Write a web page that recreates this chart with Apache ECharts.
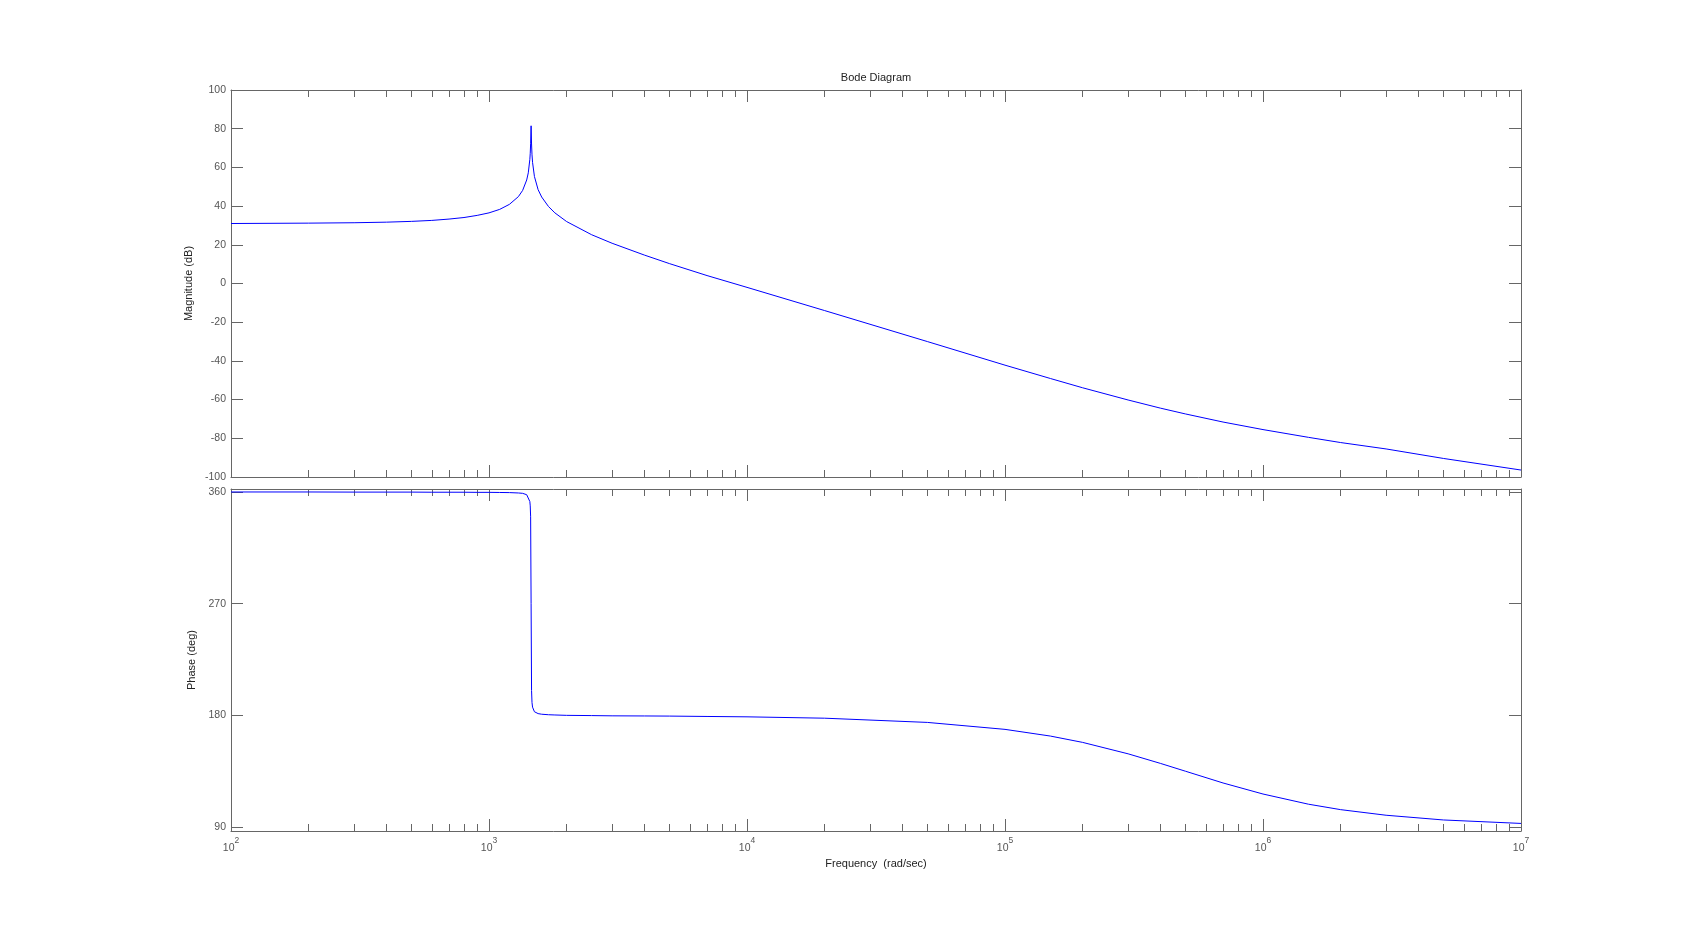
<!DOCTYPE html>
<html><head><meta charset="utf-8">
<script src="https://cdn.jsdelivr.net/npm/echarts@6/dist/echarts.min.js"></script>
<style>html,body{margin:0;padding:0;background:#fff}#c{width:1681px;height:934px}</style>
</head><body><div id="c"></div><script>
// frequency (rad/sec)
const freq = [100,200,300,400,500,600,700,800,900,1000,
  1100,1200,1300,1350,1400,1420,1440,1445,1450,1456,
  1462,1468,1475,1500,1550,1600,1700,1800,2000,2500,
  3000,4000,5000,7000,1e4,2e4,5e4,1e5,1.5e5,2e5,
  3e5,4e5,5e5,7e5,1e6,1.5e6,2e6,3e6,5e6,1e7];
// magnitude (dB)
const magnitude = [31.0,31.2,31.4,31.7,32.1,32.6,33.3,34.1,35.2,36.5,
  38.3,40.9,44.9,48.1,53.5,57.2,64.2,67.3,72.2,81.5,
  72.1,66.5,62.6,55.3,48.5,44.7,39.8,36.5,32.0,25.2,
  20.8,14.7,10.3,4.1,-2.0,-14.0,-30.0,-42.2,-49.1,-53.9,
  -60.2,-64.4,-67.4,-71.6,-75.5,-79.5,-82.2,-85.5,-90.4,-96.4];
// phase (deg)
const phase = [360.0,360.0,359.9,359.9,359.9,359.8,359.8,359.8,359.7,359.7,
  359.6,359.5,359.2,358.9,357.8,356.6,352.3,348.8,340.0,270.0,
  200.0,190.3,186.6,182.9,181.4,180.9,180.5,180.3,180.0,179.8,
  179.6,179.5,179.4,179.1,178.8,177.7,174.3,168.7,163.3,158.2,
  149.0,141.3,135.0,125.5,116.6,108.4,104.0,99.5,95.7,92.9];
// ticks
const xMajorTicks = [1e2,1e3,1e4,1e5,1e6,1e7];
const xMinorMultipliers = [2,3,4,5,6,7,8,9];
const magTicks = [-100,-80,-60,-40,-20,0,20,40,60,80,100];
const phaseTicks = [90,180,270,360];

const xMinorTicks = [];
for (let d = 0; d < xMajorTicks.length - 1; d++) {
  for (const m of xMinorMultipliers) xMinorTicks.push(m * xMajorTicks[d]);
}

const FONT = 'Liberation Sans, Arial, Helvetica, sans-serif';
const AX = '#666666';
const LBL = '#555555';
const NAME = '#222222';

function xAx(grid, pos, minor, labels) {
  const a = {
    type: 'log', logBase: 10, min: 1e2, max: 1e7, gridIndex: grid, position: pos,
    axisLine: { show: !minor, onZero: false, lineStyle: { color: AX, width: 1 } },
    axisTick: { show: true, inside: true, length: minor ? 7 : 12,
      customValues: minor ? xMinorTicks : xMajorTicks,
      lineStyle: { color: AX, width: 1 } },
    axisLabel: { show: false },
    splitLine: { show: false }, minorTick: { show: false }, minorSplitLine: { show: false }
  };
  if (labels) {
    a.axisLabel = {
      show: true, customValues: xMajorTicks, margin: 5,
      formatter: v => '{b|10}{s|' + Math.round(Math.log10(v)) + '}',
      rich: {
        b: { fontSize: 10.5, color: LBL, fontFamily: FONT, verticalAlign: 'bottom', lineHeight: 18 },
        s: { fontSize: 8.5, color: LBL, fontFamily: FONT, verticalAlign: 'top', lineHeight: 9 }
      }
    };
    a.name = 'Frequency  (rad/sec)';
    a.nameLocation = 'middle';
    a.nameGap = 27;
    a.nameTextStyle = { fontSize: 11, color: NAME, fontFamily: FONT };
  }
  return a;
}

function yAx(grid, pos, cfg, labels, name, gap) {
  const a = Object.assign({
    type: 'value', gridIndex: grid, position: pos,
    axisLine: { show: true, onZero: false, lineStyle: { color: AX, width: 1 } },
    axisTick: { show: true, inside: true, length: 12, lineStyle: { color: AX, width: 1 } },
    axisLabel: { show: labels, margin: 5, fontSize: 10.5, color: LBL, fontFamily: FONT },
    splitLine: { show: false }
  }, cfg);
  if (cfg.ticks) {
    a.axisTick.customValues = cfg.ticks;
    a.axisLabel.customValues = cfg.ticks;
    delete a.ticks;
  }
  if (name) {
    a.name = name; a.nameLocation = 'middle'; a.nameGap = gap; a.nameRotate = 90;
    a.nameTextStyle = { fontSize: 11, color: NAME, fontFamily: FONT };
  }
  return a;
}

const magCfg = { min: magTicks[0], max: magTicks[magTicks.length - 1], interval: 20 };
const phCfg = { min: 86.8, max: 362.4, ticks: phaseTicks };

const chart = echarts.init(document.getElementById('c'), null, { renderer: 'canvas' });
chart.setOption({
  backgroundColor: '#ffffff',
  animation: false,
  title: {
    text: 'Bode Diagram', left: 876, top: 72, textAlign: 'center', padding: 0,
    textStyle: { fontSize: 11, fontWeight: 'normal', color: NAME, fontFamily: FONT }
  },
  grid: [
    { left: 231, right: 160, top: 90, height: 387, containLabel: false },
    { left: 231, right: 160, top: 489, height: 342, containLabel: false }
  ],
  xAxis: [
    xAx(0, 'bottom', false, false), xAx(0, 'bottom', true, false),
    xAx(0, 'top', false, false), xAx(0, 'top', true, false),
    xAx(1, 'bottom', false, true), xAx(1, 'bottom', true, false),
    xAx(1, 'top', false, false), xAx(1, 'top', true, false)
  ],
  yAxis: [
    yAx(0, 'left', Object.assign({}, magCfg), true, 'Magnitude (dB)', 33),
    yAx(0, 'right', Object.assign({}, magCfg), false),
    yAx(1, 'left', Object.assign({}, phCfg), true, 'Phase (deg)', 28),
    yAx(1, 'right', Object.assign({}, phCfg), false)
  ],
  series: [
    { type: 'line', xAxisIndex: 0, yAxisIndex: 0, showSymbol: false, silent: true,
      data: freq.map((f, i) => [f, magnitude[i]]),
      lineStyle: { color: '#0000ff', width: 1 }, itemStyle: { color: '#0000ff' } },
    { type: 'line', xAxisIndex: 4, yAxisIndex: 2, showSymbol: false, silent: true,
      data: freq.map((f, i) => [f, phase[i]]),
      lineStyle: { color: '#0000ff', width: 1 }, itemStyle: { color: '#0000ff' } }
  ]
});
</script></body></html>
